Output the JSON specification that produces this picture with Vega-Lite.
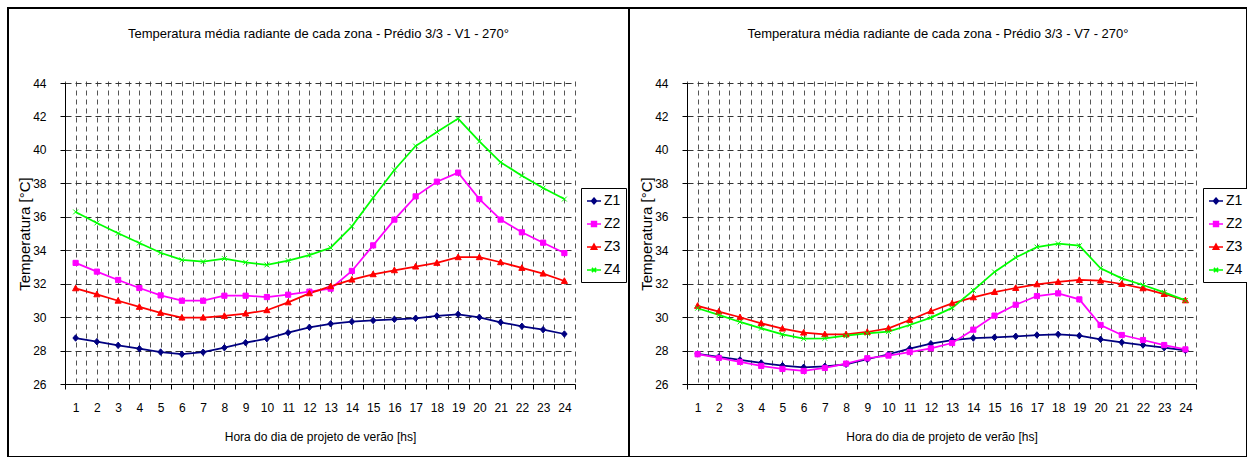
{
  "$schema": "https://vega.github.io/schema/vega-lite/v6.json",
  "background": "white",
  "padding": {"left": 7, "top": 7, "right": 0, "bottom": 0},
  "bounds": "flush",
  "spacing": 0,
  "datasets": {
    "v1": [
      {"hora": 1, "Z1": 28.75, "Z2": 33.24, "Z3": 31.72, "Z4": 36.29},
      {"hora": 2, "Z1": 28.53, "Z2": 32.72, "Z3": 31.36, "Z4": 35.63},
      {"hora": 3, "Z1": 28.31, "Z2": 32.22, "Z3": 30.98, "Z4": 35.01},
      {"hora": 4, "Z1": 28.11, "Z2": 31.74, "Z3": 30.61, "Z4": 34.43},
      {"hora": 5, "Z1": 27.91, "Z2": 31.3, "Z3": 30.25, "Z4": 33.85},
      {"hora": 6, "Z1": 27.78, "Z2": 30.98, "Z3": 29.97, "Z4": 33.42},
      {"hora": 7, "Z1": 27.9, "Z2": 30.98, "Z3": 29.97, "Z4": 33.32},
      {"hora": 8, "Z1": 28.17, "Z2": 31.28, "Z3": 30.07, "Z4": 33.5},
      {"hora": 9, "Z1": 28.47, "Z2": 31.28, "Z3": 30.21, "Z4": 33.28},
      {"hora": 10, "Z1": 28.71, "Z2": 31.2, "Z3": 30.41, "Z4": 33.12},
      {"hora": 11, "Z1": 29.07, "Z2": 31.34, "Z3": 30.88, "Z4": 33.38},
      {"hora": 12, "Z1": 29.39, "Z2": 31.52, "Z3": 31.42, "Z4": 33.71},
      {"hora": 13, "Z1": 29.6, "Z2": 31.7, "Z3": 31.84, "Z4": 34.15},
      {"hora": 14, "Z1": 29.73, "Z2": 32.76, "Z3": 32.24, "Z4": 35.43},
      {"hora": 15, "Z1": 29.8, "Z2": 34.29, "Z3": 32.56, "Z4": 37.14},
      {"hora": 16, "Z1": 29.87, "Z2": 35.83, "Z3": 32.8, "Z4": 38.8},
      {"hora": 17, "Z1": 29.93, "Z2": 37.22, "Z3": 33.02, "Z4": 40.23},
      {"hora": 18, "Z1": 30.07, "Z2": 38.1, "Z3": 33.24, "Z4": 41.07},
      {"hora": 19, "Z1": 30.17, "Z2": 38.64, "Z3": 33.58, "Z4": 41.87},
      {"hora": 20, "Z1": 29.99, "Z2": 37.06, "Z3": 33.58, "Z4": 40.51},
      {"hora": 21, "Z1": 29.69, "Z2": 35.83, "Z3": 33.28, "Z4": 39.26},
      {"hora": 22, "Z1": 29.45, "Z2": 35.07, "Z3": 32.94, "Z4": 38.46},
      {"hora": 23, "Z1": 29.25, "Z2": 34.45, "Z3": 32.6, "Z4": 37.72},
      {"hora": 24, "Z1": 28.99, "Z2": 33.83, "Z3": 32.16, "Z4": 37.06}
    ],
    "v7": [
      {"hora": 1, "Z1": 27.8, "Z2": 27.78, "Z3": 30.67, "Z4": 30.53},
      {"hora": 2, "Z1": 27.62, "Z2": 27.56, "Z3": 30.33, "Z4": 30.13},
      {"hora": 3, "Z1": 27.44, "Z2": 27.32, "Z3": 29.99, "Z4": 29.71},
      {"hora": 4, "Z1": 27.26, "Z2": 27.08, "Z3": 29.63, "Z4": 29.33},
      {"hora": 5, "Z1": 27.1, "Z2": 26.9, "Z3": 29.31, "Z4": 28.97},
      {"hora": 6, "Z1": 27.0, "Z2": 26.78, "Z3": 29.07, "Z4": 28.71},
      {"hora": 7, "Z1": 27.06, "Z2": 26.96, "Z3": 28.97, "Z4": 28.73},
      {"hora": 8, "Z1": 27.18, "Z2": 27.22, "Z3": 28.97, "Z4": 28.89},
      {"hora": 9, "Z1": 27.48, "Z2": 27.54, "Z3": 29.11, "Z4": 29.03},
      {"hora": 10, "Z1": 27.78, "Z2": 27.7, "Z3": 29.33, "Z4": 29.13},
      {"hora": 11, "Z1": 28.11, "Z2": 27.91, "Z3": 29.83, "Z4": 29.53},
      {"hora": 12, "Z1": 28.41, "Z2": 28.13, "Z3": 30.35, "Z4": 29.97},
      {"hora": 13, "Z1": 28.63, "Z2": 28.45, "Z3": 30.82, "Z4": 30.55},
      {"hora": 14, "Z1": 28.75, "Z2": 29.25, "Z3": 31.18, "Z4": 31.6},
      {"hora": 15, "Z1": 28.79, "Z2": 30.09, "Z3": 31.5, "Z4": 32.7},
      {"hora": 16, "Z1": 28.85, "Z2": 30.74, "Z3": 31.74, "Z4": 33.56},
      {"hora": 17, "Z1": 28.93, "Z2": 31.26, "Z3": 31.96, "Z4": 34.19},
      {"hora": 18, "Z1": 28.97, "Z2": 31.42, "Z3": 32.1, "Z4": 34.39},
      {"hora": 19, "Z1": 28.89, "Z2": 31.06, "Z3": 32.22, "Z4": 34.27},
      {"hora": 20, "Z1": 28.67, "Z2": 29.53, "Z3": 32.18, "Z4": 32.92},
      {"hora": 21, "Z1": 28.49, "Z2": 28.93, "Z3": 31.98, "Z4": 32.32},
      {"hora": 22, "Z1": 28.33, "Z2": 28.63, "Z3": 31.72, "Z4": 31.92},
      {"hora": 23, "Z1": 28.17, "Z2": 28.33, "Z3": 31.38, "Z4": 31.48},
      {"hora": 24, "Z1": 28.01, "Z2": 28.07, "Z3": 31.0, "Z4": 31.0}
    ]
  },
  "hconcat": [
    {
      "width": 621,
      "height": 449,
      "data": {"name": "v1"},
      "transform": [{"fold": ["Z1", "Z2", "Z3", "Z4"], "as": ["zona", "temp"]}],
      "title": {"text": "Temperatura média radiante de cada zona - Prédio 3/3 - V1 - 270°", "offset": -33},
      "encoding": {
        "x": {
          "field": "hora", "type": "quantitative",
          "scale": {"domain": [0.5, 24.5], "range": [57, 567], "nice": false, "zero": false},
          "axis": {
            "values": [0.5,1,1.5,2,2.5,3,3.5,4,4.5,5,5.5,6,6.5,7,7.5,8,8.5,9,9.5,10,10.5,11,11.5,12,12.5,13,13.5,14,14.5,15,15.5,16,16.5,17,17.5,18,18.5,19,19.5,20,20.5,21,21.5,22,22.5,23,23.5,24,24.5],
            "labelExpr": "datum.value % 1 == 0 ? '' + datum.value : ''",
            "tickOpacity": {"condition": {"test": "datum.value % 1 != 0", "value": 1}, "value": 0},
            "labelOverlap": false, "labelFlush": false,
            "grid": true, "gridDash": [5, 4], "gridColor": "#555555", "gridWidth": 1,
            "tickSize": 5, "labelPadding": 13, "offset": -73,
            "title": "Hora do dia de projeto de verão [hs]", "titlePadding": 18
          }
        },
        "y": {
          "field": "temp", "type": "quantitative",
          "scale": {"domain": [26, 44], "range": [376, 75], "nice": false, "zero": false},
          "axis": {
            "values": [26, 28, 30, 32, 34, 36, 38, 40, 42, 44],
            "grid": true, "gridDash": [6, 4], "gridColor": "#333333", "gridWidth": 1,
            "tickSize": 5, "labelPadding": 14, "offset": -57,
            "title": "Temperatura [°C]", "titleFontSize": 15, "titlePadding": 0
          }
        }
      },
      "layer": [
        {
          "mark": {"type": "line", "strokeWidth": 1.75},
          "encoding": {
            "color": {"field": "zona", "type": "nominal", "scale": {"domain": ["Z1", "Z2", "Z3", "Z4"], "range": ["#000080", "#FF00FF", "#FF0000", "#00FF00"]}, "legend": null}
          }
        },
        {
          "mark": {"type": "point", "size": 42, "strokeWidth": 1, "opacity": 1},
          "encoding": {
            "shape": {"field": "zona", "type": "nominal", "scale": {"domain": ["Z1", "Z2", "Z3", "Z4"], "range": ["M0,-1L0.85,0L0,1L-0.85,0Z", "M-0.8,-0.8H0.8V0.8H-0.8Z", "M0,-1L0.95,0.75H-0.95Z", "M-0.75,-0.75L0.75,0.75M-0.75,0.75L0.75,-0.75"]}, "legend": null},
            "fill": {"field": "zona", "type": "nominal", "scale": {"domain": ["Z1", "Z2", "Z3", "Z4"], "range": ["#000080", "#FF00FF", "#FF0000", "#00FF00"]}, "legend": null},
            "stroke": {"field": "zona", "type": "nominal", "scale": {"domain": ["Z1", "Z2", "Z3", "Z4"], "range": ["#000080", "#FF00FF", "#FF0000", "#00FF00"]}, "legend": null}
          }
        },
        {
          "transform": [{"filter": "datum.hora > 100"}],
          "mark": {"type": "point", "size": 196, "strokeWidth": 1.5, "opacity": 1},
          "encoding": {
            "shape": {"field": "zona", "type": "nominal", "scale": {"domain": ["Z1", "Z2", "Z3", "Z4"], "range": ["M-1,0H1M0,-0.42L0.36,0L0,0.42L-0.36,0Z", "M-1,0H1M-0.35,-0.35H0.35V0.35H-0.35Z", "M-1,0H1M0,-0.42L0.4,0.32H-0.4Z", "M-1,0H1M-0.3,-0.3L0.3,0.3M-0.3,0.3L0.3,-0.3"]},
              "legend": {"orient": "none", "legendX": 573, "legendY": 180, "title": null, "strokeColor": "black", "fillColor": "white", "padding": 5, "symbolSize": 196, "symbolStrokeWidth": 1.5, "labelFontSize": 14, "labelOffset": 2, "rowPadding": 8}},
            "fill": {"field": "zona", "type": "nominal", "scale": {"domain": ["Z1", "Z2", "Z3", "Z4"], "range": ["#000080", "#FF00FF", "#FF0000", "#00FF00"]},
              "legend": {"orient": "none", "legendX": 573, "legendY": 180, "title": null, "strokeColor": "black", "fillColor": "white", "padding": 5, "symbolSize": 196, "symbolStrokeWidth": 1.5, "labelFontSize": 14, "labelOffset": 2, "rowPadding": 8}},
            "stroke": {"field": "zona", "type": "nominal", "scale": {"domain": ["Z1", "Z2", "Z3", "Z4"], "range": ["#000080", "#FF00FF", "#FF0000", "#00FF00"]},
              "legend": {"orient": "none", "legendX": 573, "legendY": 180, "title": null, "strokeColor": "black", "fillColor": "white", "padding": 5, "symbolSize": 196, "symbolStrokeWidth": 1.5, "labelFontSize": 14, "labelOffset": 2, "rowPadding": 8}}
          }
        }
      ],
      "resolve": {"scale": {"color": "independent", "fill": "independent", "stroke": "independent", "shape": "independent"}}
    },
    {
      "width": 618,
      "height": 449,
      "data": {"name": "v7"},
      "transform": [{"fold": ["Z1", "Z2", "Z3", "Z4"], "as": ["zona", "temp"]}],
      "title": {"text": "Temperatura média radiante de cada zona - Prédio 3/3 - V7 - 270°", "offset": -33},
      "encoding": {
        "x": {
          "field": "hora", "type": "quantitative",
          "scale": {"domain": [0.5, 24.5], "range": [58, 567], "nice": false, "zero": false},
          "axis": {
            "values": [0.5,1,1.5,2,2.5,3,3.5,4,4.5,5,5.5,6,6.5,7,7.5,8,8.5,9,9.5,10,10.5,11,11.5,12,12.5,13,13.5,14,14.5,15,15.5,16,16.5,17,17.5,18,18.5,19,19.5,20,20.5,21,21.5,22,22.5,23,23.5,24,24.5],
            "labelExpr": "datum.value % 1 == 0 ? '' + datum.value : ''",
            "tickOpacity": {"condition": {"test": "datum.value % 1 != 0", "value": 1}, "value": 0},
            "labelOverlap": false, "labelFlush": false,
            "grid": true, "gridDash": [5, 4], "gridColor": "#555555", "gridWidth": 1,
            "tickSize": 5, "labelPadding": 13, "offset": -73,
            "title": "Hora do dia de projeto de verão [hs]", "titlePadding": 18
          }
        },
        "y": {
          "field": "temp", "type": "quantitative",
          "scale": {"domain": [26, 44], "range": [376, 75], "nice": false, "zero": false},
          "axis": {
            "values": [26, 28, 30, 32, 34, 36, 38, 40, 42, 44],
            "grid": true, "gridDash": [6, 4], "gridColor": "#333333", "gridWidth": 1,
            "tickSize": 5, "labelPadding": 14, "offset": -58,
            "title": "Temperatura [°C]", "titleFontSize": 15, "titlePadding": 0
          }
        }
      },
      "layer": [
        {
          "mark": {"type": "line", "strokeWidth": 1.75},
          "encoding": {
            "color": {"field": "zona", "type": "nominal", "scale": {"domain": ["Z1", "Z2", "Z3", "Z4"], "range": ["#000080", "#FF00FF", "#FF0000", "#00FF00"]}, "legend": null}
          }
        },
        {
          "mark": {"type": "point", "size": 42, "strokeWidth": 1, "opacity": 1},
          "encoding": {
            "shape": {"field": "zona", "type": "nominal", "scale": {"domain": ["Z1", "Z2", "Z3", "Z4"], "range": ["M0,-1L0.85,0L0,1L-0.85,0Z", "M-0.8,-0.8H0.8V0.8H-0.8Z", "M0,-1L0.95,0.75H-0.95Z", "M-0.75,-0.75L0.75,0.75M-0.75,0.75L0.75,-0.75"]}, "legend": null},
            "fill": {"field": "zona", "type": "nominal", "scale": {"domain": ["Z1", "Z2", "Z3", "Z4"], "range": ["#000080", "#FF00FF", "#FF0000", "#00FF00"]}, "legend": null},
            "stroke": {"field": "zona", "type": "nominal", "scale": {"domain": ["Z1", "Z2", "Z3", "Z4"], "range": ["#000080", "#FF00FF", "#FF0000", "#00FF00"]}, "legend": null}
          }
        },
        {
          "transform": [{"filter": "datum.hora > 100"}],
          "mark": {"type": "point", "size": 196, "strokeWidth": 1.5, "opacity": 1},
          "encoding": {
            "shape": {"field": "zona", "type": "nominal", "scale": {"domain": ["Z1", "Z2", "Z3", "Z4"], "range": ["M-1,0H1M0,-0.42L0.36,0L0,0.42L-0.36,0Z", "M-1,0H1M-0.35,-0.35H0.35V0.35H-0.35Z", "M-1,0H1M0,-0.42L0.4,0.32H-0.4Z", "M-1,0H1M-0.3,-0.3L0.3,0.3M-0.3,0.3L0.3,-0.3"]},
              "legend": {"orient": "none", "legendX": 574, "legendY": 180, "title": null, "strokeColor": "black", "fillColor": "white", "padding": 5, "symbolSize": 196, "symbolStrokeWidth": 1.5, "labelFontSize": 14, "labelOffset": 2, "rowPadding": 8}},
            "fill": {"field": "zona", "type": "nominal", "scale": {"domain": ["Z1", "Z2", "Z3", "Z4"], "range": ["#000080", "#FF00FF", "#FF0000", "#00FF00"]},
              "legend": {"orient": "none", "legendX": 574, "legendY": 180, "title": null, "strokeColor": "black", "fillColor": "white", "padding": 5, "symbolSize": 196, "symbolStrokeWidth": 1.5, "labelFontSize": 14, "labelOffset": 2, "rowPadding": 8}},
            "stroke": {"field": "zona", "type": "nominal", "scale": {"domain": ["Z1", "Z2", "Z3", "Z4"], "range": ["#000080", "#FF00FF", "#FF0000", "#00FF00"]},
              "legend": {"orient": "none", "legendX": 574, "legendY": 180, "title": null, "strokeColor": "black", "fillColor": "white", "padding": 5, "symbolSize": 196, "symbolStrokeWidth": 1.5, "labelFontSize": 14, "labelOffset": 2, "rowPadding": 8}}
          }
        }
      ],
      "resolve": {"scale": {"color": "independent", "fill": "independent", "stroke": "independent", "shape": "independent"}}
    }
  ],
  "config": {
    "font": "Liberation Sans",
    "view": {"stroke": "black", "strokeWidth": 2},
    "title": {"font": "Liberation Sans", "fontSize": 13, "fontWeight": "normal", "color": "black", "anchor": "middle", "frame": "group"},
    "axis": {"labelFont": "Liberation Sans", "titleFont": "Liberation Sans", "labelFontSize": 12, "titleFontSize": 12, "titleFontWeight": "normal", "labelColor": "black", "titleColor": "black", "domainColor": "black", "tickColor": "black", "domainWidth": 1},
    "legend": {"labelFont": "Liberation Sans", "labelColor": "black"}
  }
}
